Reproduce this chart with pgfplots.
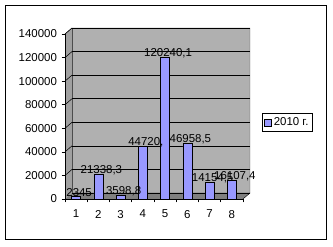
\documentclass[border=0pt]{standalone}
\usepackage{pgfplots}
\pgfplotsset{compat=1.18}
\usepackage{fontspec}
\setmainfont{Liberation Sans}
\definecolor{barblue}{RGB}{153,153,255}
\definecolor{wallgray}{RGB}{176,176,176}
\definecolor{sidegray}{RGB}{160,160,160}
\definecolor{floorgray}{RGB}{128,128,128}
\begin{document}
\begin{tikzpicture}[x=1bp,y=1bp]
\path (0,0) rectangle (333,247);
\draw[black, line width=0.8bp] (5.5,8) rectangle (326,242);
% 3D walls (decoration)
\fill[wallgray] (72,54) rectangle (250,219);
\fill[sidegray] (65,48) -- (72,54) -- (72,219) -- (65,213) -- cycle;
\fill[floorgray] (65,48) -- (72,54) -- (250,54) -- (243,48) -- cycle;
\draw[black!70, line width=0.4bp] (72,54) -- (250,54) -- (250,219) -- (72,219) -- (65,213);
\draw[black!70, line width=0.4bp] (72,54) -- (72,219);
\draw[black, line width=0.4bp] (243,48) -- (250,54);
\foreach \v in {20,40,60,80,100,120,140}{
  \draw[black, line width=0.5bp] (65,{48+\v/140*165}) -- (72,{54+\v/140*165});
}
\begin{axis}[
  at={(65bp,48bp)}, anchor=south west,
  scale only axis, width=178bp, height=165bp,
  xmin=0.5, xmax=8.5, ymin=0, ymax=140000,
  axis x line*=bottom, axis y line*=left,
  axis line style={black, line width=0.6bp},
  xtick={1,...,8},
  minor xtick={0.5,1.5,...,8.5},
  major x tick style={draw=none},
  minor x tick style={black, line width=0.6bp},
  ytick={0,20000,...,140000},
  tick align=outside,
  major tick length=3.5bp, minor tick length=3.5bp,
  y tick style={black, line width=0.6bp},
  ymajorgrids,
  major grid style={black, line width=0.5bp, xshift=7bp, yshift=6bp},
  tick label style={font=\fontsize{11.5}{13}\selectfont},
  /pgf/number format/assume math mode=true,
  /pgf/number format/1000 sep={},
  /pgf/number format/fixed,
  /pgf/number format/precision=0,
  scaled y ticks=false,
  xticklabel style={yshift=-4bp},
  yticklabel style={xshift=-1bp},
  ybar, bar width=9bp,
  nodes near coords,
  point meta=explicit symbolic,
  every node near coord/.append style={anchor=center, xshift=3bp, yshift=4bp, font=\fontsize{11.5}{13}\selectfont, black},
  legend style={at={(1.107,0.464)}, anchor=west, draw=black, line width=0.8bp,
    font=\fontsize{11.5}{13}\selectfont, inner xsep=2bp, inner ysep=2bp,
    legend cell align=left},
  legend image code/.code={\draw[#1, line width=0.4bp] (0bp,-3.5bp) rectangle (7bp,3.5bp);},
]
\addplot[fill=barblue, draw=black, line width=0.4bp] table[meta=lab] {
x y lab
1 2345 2345
2 21338.3 21338,3
3 3598.8 3598,8
4 44720 44720,
5 120240.1 120240,1
6 46958.5 46958,5
7 14154.5 14154,5
8 16107.4 16107,4
};
\addlegendentry{2010 г.}
\end{axis}
\end{tikzpicture}
\end{document}
